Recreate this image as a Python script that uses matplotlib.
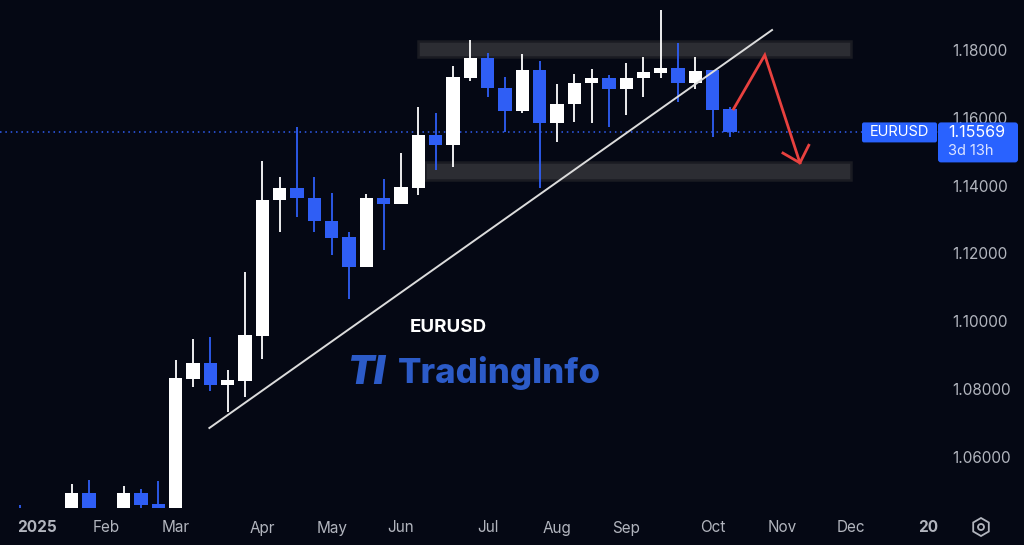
"""
EURUSD weekly candles, 2025, with zones, trend line and projected move
"""
import matplotlib
matplotlib.use("Agg")
import matplotlib.pyplot as plt
from matplotlib.patches import Rectangle, RegularPolygon, Circle, FancyBboxPatch

plt.rcParams['font.family'] = ['Inter', 'DejaVu Sans']

BG = "#050814"
UP = "#ffffff"
DOWN = "#2f5ef5"
AXIS_TXT = "#b2b5be"

# weekly bars, week 0 = week of 30 Dec 2024
WEEKS = list(range(42))
OPENS = [1.0427, 1.0310, 1.0244, 1.0272, 1.0494, 1.0236, 1.0327, 1.0493, 1.0462, 1.0377,
         1.0830, 1.0877, 1.0812, 1.0824, 1.0956, 1.1358, 1.1393, 1.1363, 1.1296, 1.1248,
         1.1160, 1.1363, 1.1346, 1.1393, 1.1549, 1.1520, 1.1717, 1.1776, 1.1688, 1.1620,
         1.1741, 1.1585, 1.1641, 1.1703, 1.1717, 1.1685, 1.1717, 1.1732, 1.1747, 1.1703,
         1.1741, 1.1626]
HIGHS = [1.0458, 1.0437, 1.0353, 1.0521, 1.0532, 1.0442, 1.0513, 1.0505, 1.0529, 1.0886,
         1.0947, 1.0953, 1.0856, 1.1145, 1.1473, 1.1425, 1.1573, 1.1425, 1.1378, 1.1263,
         1.1375, 1.1419, 1.1496, 1.1632, 1.1614, 1.1753, 1.1830, 1.1791, 1.1720, 1.1788,
         1.1768, 1.1700, 1.1729, 1.1744, 1.1726, 1.1762, 1.1779, 1.1918, 1.1820, 1.1779,
         1.1741, 1.1632]
LOWS = [1.0226, 1.0214, 1.0178, 1.0265, 1.0359, 1.0141, 1.0286, 1.0401, 1.0359, 1.0360,
        1.0806, 1.0794, 1.0732, 1.0776, 1.0888, 1.1263, 1.1307, 1.1263, 1.1195, 1.1065,
        1.1160, 1.1210, 1.1346, 1.1372, 1.1446, 1.1455, 1.1709, 1.1661, 1.1558, 1.1614,
        1.1393, 1.1529, 1.1588, 1.1585, 1.1573, 1.1608, 1.1661, 1.1717, 1.1646, 1.1685,
        1.1543, 1.1543]
CLOSES = [1.0307, 1.0244, 1.0272, 1.0494, 1.0364, 1.0330, 1.0493, 1.0457, 1.0375, 1.0832,
          1.0877, 1.0812, 1.0827, 1.0959, 1.1358, 1.1393, 1.1363, 1.1296, 1.1245, 1.1160,
          1.1363, 1.1346, 1.1396, 1.1549, 1.1520, 1.1720, 1.1776, 1.1688, 1.1620, 1.1741,
          1.1585, 1.1641, 1.1703, 1.1717, 1.1685, 1.1717, 1.1735, 1.1747, 1.1703, 1.1738,
          1.1623, 1.15569]

MONTH_WEEKS = [1, 5, 9, 14, 18, 22, 27, 31, 35, 40, 44, 48, 53]
MONTH_LABELS = ["2025", "Feb", "Mar", "Apr", "May", "Jun", "Jul", "Aug", "Sep", "Oct",
                "Nov", "Dec", "2026"]
PRICE_TICKS = [1.06, 1.08, 1.10, 1.12, 1.14, 1.16, 1.18]

# drawings
RESIST_ZONE = (22.98, 47.96, 1.1779, 1.1827)
SUPPORT_ZONE = (23.38, 47.96, 1.1417, 1.1470)
TREND_X = [10.94, 43.42]
TREND_Y = [1.0685, 1.1859]
PATH_X = [41.2, 43.0, 45.03]
PATH_Y = [1.1626, 1.1785, 1.1467]


def main():
    fig = plt.figure(figsize=(10.24, 5.45), dpi=100, facecolor=BG)
    W, H = 1024, 545
    ax = fig.add_axes([0, (H - 508) / H, 938 / W, 508 / H], facecolor=BG)
    ax.set_xlim(-1.146, 52.86)
    ax.set_ylim(1.0449, 1.19475)
    for s in ax.spines.values():
        s.set_visible(False)

    # candles
    for w, o, h, l, c in zip(WEEKS, OPENS, HIGHS, LOWS, CLOSES):
        col = UP if c >= o else DOWN
        ax.plot([w, w], [l, h], color=col, lw=1.3, solid_capstyle='butt', zorder=3)
        lo, hi = min(o, c), max(o, c)
        ax.add_patch(Rectangle((w - 0.385, lo), 0.77, max(hi - lo, 0.0002),
                               facecolor=col, edgecolor='none', zorder=4))

    # zones
    for x0, x1, y0, y1 in (RESIST_ZONE, SUPPORT_ZONE):
        ax.add_patch(Rectangle((x0, y0), x1 - x0, y1 - y0, facecolor="#2c2d33",
                               edgecolor="#1a1b22", lw=1.8, zorder=1))

    # trend line
    ax.plot(TREND_X, TREND_Y, color="#dcdcdc", lw=1.4, zorder=5)

    # projected move
    red = "#e8413f"
    ax.plot(PATH_X, PATH_Y, color=red, lw=2, zorder=6, solid_joinstyle='miter')
    ax.plot([44.05, PATH_X[2], 45.54], [1.1496, PATH_Y[2], 1.1519],
            color=red, lw=2, zorder=6)

    # last price line
    last = CLOSES[-1]
    ax.axhline(last, color=DOWN, lw=1.1, ls=(0, (1, 2.5)), zorder=2)

    # axes ticks
    ax.yaxis.tick_right()
    ax.set_yticks(PRICE_TICKS)
    ax.set_yticklabels([f"{p:.5f}" for p in PRICE_TICKS])
    ax.tick_params(axis='y', length=0, pad=10, labelsize=11, labelcolor=AXIS_TXT)
    ax.set_xticks(MONTH_WEEKS)
    ax.set_xticklabels(MONTH_LABELS)
    ax.tick_params(axis='x', length=0, pad=9, labelsize=11, labelcolor=AXIS_TXT)
    for t in ax.get_xticklabels():
        if t.get_text().isdigit():
            t.set_fontweight('bold')

    # overlay in pixel coords for the price tags, watermark, icon
    ov = fig.add_axes([0, 0, 1, 1], facecolor='none', zorder=10)
    ov.set_xlim(0, W)
    ov.set_ylim(H, 0)
    ov.axis('off')

    # hide cut year label under the price scale
    ov.add_patch(Rectangle((938, 508), W - 938, H - 508, facecolor=BG, edgecolor='none'))

    y_last = H - ax.transData.transform((0, last))[1]
    ov.add_patch(FancyBboxPatch((862, y_last - 10), 75, 20, boxstyle="round,pad=0,rounding_size=2",
                                facecolor="#2962ff", edgecolor='none'))
    ov.text(899.5, y_last, "EURUSD", color="white", fontsize=10.5, ha='center', va='center')
    ov.add_patch(FancyBboxPatch((938, y_last - 10), 80, 40, boxstyle="round,pad=0,rounding_size=3",
                                facecolor="#2962ff", edgecolor='none'))
    ov.text(948, y_last + 0.5, f"{last:.5f}", color="white", fontsize=11.5, ha='left', va='center')
    ov.text(948, y_last + 19, "3d 13h", color="#dde4ff", fontsize=10.5, ha='left', va='center')

    # watermark
    ov.text(448, 327, "EURUSD", color="white", fontsize=13.5, fontweight='bold',
            ha='center', va='center')
    ov.text(347, 373, "TI", color="#2c5bc8", fontsize=28, fontweight='black',
            style='italic', ha='left', va='center')
    ov.text(398, 373, "TradingInfo", color="#2c5bc8", fontsize=25, fontweight='heavy',
            ha='left', va='center')

    # settings icon
    ov.add_patch(RegularPolygon((981, 527), 6, radius=9, orientation=0,
                                facecolor='none', edgecolor=AXIS_TXT, lw=1.3))
    ov.add_patch(Circle((981, 527), 3, facecolor='none', edgecolor=AXIS_TXT, lw=1.3))

    fig.savefig("out.png", dpi=100, facecolor=BG)
    plt.close(fig)


if __name__ == "__main__":
    main()
